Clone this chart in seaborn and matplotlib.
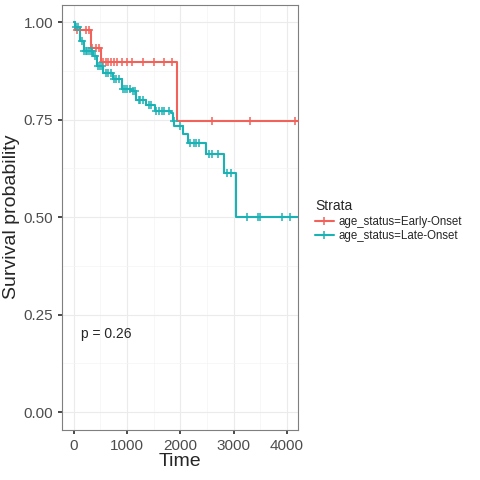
import matplotlib
matplotlib.use("Agg")
import matplotlib.pyplot as plt
import seaborn as sns
import numpy as np
import pandas as pd
from matplotlib.lines import Line2D

red_t = [0, 20, 330, 520, 1930, 4200]
red_s = [1.0, 0.98, 0.935, 0.897, 0.747, 0.747]
red_cens = [60, 230, 280, 350, 420, 470, 560, 600, 650, 700, 760, 820, 900, 1000, 1100, 1300, 1500, 1700, 1850, 2600, 3300, 4150]

teal_t = [0, 23, 124, 186, 372, 434, 558, 744, 899, 1085, 1178, 1364, 1519, 1829, 1860, 1891, 2046, 2140, 2481, 2822, 3040, 4200]
teal_s = [1.0, 0.987, 0.953, 0.927, 0.914, 0.889, 0.871, 0.854, 0.828, 0.824, 0.802, 0.789, 0.772, 0.768, 0.747, 0.734, 0.714, 0.691, 0.661, 0.614, 0.500, 0.500]
teal_cens = [40, 90, 150, 200, 230, 260, 290, 320, 350, 400, 460, 500, 530, 600, 650, 700, 760, 800, 850, 930, 960, 1000, 1050, 1120, 1150, 1220, 1250, 1300, 1420, 1450, 1550, 1600, 1650, 1700, 1780, 1880, 2000, 2180, 2250, 2300, 2350, 2530, 2600, 2700, 2870, 2950, 3250, 3450, 3500, 3900, 4050]

strata = ["age_status=Early-Onset", "age_status=Late-Onset"]
colors = ["#F0625A", "#1AB2B5"]

def step_val(ts, ss, x):
    idx = np.searchsorted(ts, x, side="right") - 1
    return ss[idx]

sns.set_theme(style="white")
plt.rcParams['font.family'] = ['Liberation Sans', 'DejaVu Sans']
fig = plt.figure(figsize=(4.8, 4.8), dpi=100)
ax = fig.add_axes([0.13, 0.105, 0.49, 0.885])

curves = pd.concat([
    pd.DataFrame({"time": red_t, "surv": red_s, "strata": strata[0]}),
    pd.DataFrame({"time": teal_t, "surv": teal_s, "strata": strata[1]}),
])
for name, col, ts, ss, cens in [(strata[0], colors[0], red_t, red_s, red_cens),
                                (strata[1], colors[1], teal_t, teal_s, teal_cens)]:
    d = curves[curves.strata == name]
    sns.lineplot(data=d, x="time", y="surv", ax=ax, color=col, lw=1.5,
                 drawstyle="steps-post", legend=False, estimator=None)
    cd = pd.DataFrame({"time": cens, "surv": [step_val(ts, ss, c) for c in cens]})
    sns.scatterplot(data=cd, x="time", y="surv", ax=ax, color=col, marker="+",
                    s=30, linewidth=1.1, legend=False, zorder=3)

ax.set_xlim(-210, 4200)
ax.set_ylim(-0.045, 1.045)
ax.set_xticks([0, 1000, 2000, 3000, 4000])
ax.set_yticks([0, 0.25, 0.5, 0.75, 1.0])
ax.set_yticklabels(["0.00", "0.25", "0.50", "0.75", "1.00"])
ax.set_xticks([500, 1500, 2500, 3500], minor=True)
ax.set_yticks([0.125, 0.375, 0.625, 0.875], minor=True)
ax.grid(True, which="major", color="#EBEBEB", lw=0.8)
ax.grid(True, which="minor", color="#F4F4F4", lw=0.5)
ax.set_axisbelow(True)
for sp in ax.spines.values():
    sp.set_color("#7F7F7F"); sp.set_linewidth(0.8)
ax.tick_params(axis="both", which="major", labelsize=11, length=3, color="#333333", labelcolor="#4D4D4D", left=True, bottom=True)
ax.tick_params(which="minor", length=0)
ax.set_xlabel("Time", fontsize=14, labelpad=0)
ax.set_ylabel("Survival probability", fontsize=14, labelpad=3)
ax.text(130, 0.19, "p = 0.26", fontsize=10)

handles = [Line2D([0], [0], color=c, lw=1.5, marker="+", markersize=6, mew=1.1) for c in colors]
fig.legend(handles, strata, title="Strata", loc="center left", bbox_to_anchor=(0.635, 0.54),
           frameon=False, fontsize=8.3, title_fontsize=10, handlelength=1.6, handletextpad=0.4,
           labelspacing=0.2, alignment="left")
fig.savefig("out.png", dpi=100)
